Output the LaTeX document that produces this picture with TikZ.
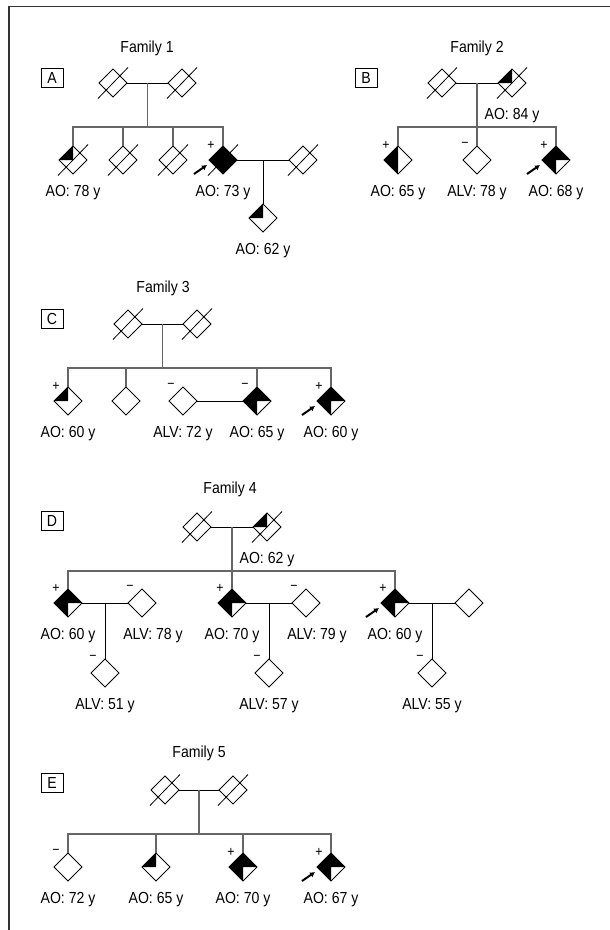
\documentclass[tikz,border=0pt]{standalone}
\usepackage{fontspec}
\setmainfont{Liberation Sans}[FakeStretch=0.88]
\usetikzlibrary{shapes.geometric,arrows.meta,calc}

\begin{document}
\begin{tikzpicture}[x=1pt, y=-1pt, label distance=10.5pt,
  ind/.style={diamond, draw, line width=0.9pt, minimum size=28pt, inner sep=0pt, outer sep=0pt, fill=white},
  aff-q/.style={path picture={\fill[black] (path picture bounding box.west) -- (path picture bounding box.north) -- (path picture bounding box.center) -- cycle;}},
  aff-h/.style={path picture={\fill[black] (path picture bounding box.west) -- (path picture bounding box.north) -- (path picture bounding box.south) -- cycle;}},
  aff-tq/.style={path picture={\fill[black] (path picture bounding box.west) -- (path picture bounding box.north) -- (path picture bounding box.east) -- (path picture bounding box.center) -- (path picture bounding box.south) -- cycle;}},
  aff-f/.style={fill=black},
  lbl/.style={font=\fontsize{16}{18}\selectfont, inner sep=0pt, text height=11.5pt, text depth=3pt},
  title/.style={lbl},
  tag/.style={draw, line width=0.8pt, minimum width=22pt, minimum height=19pt, inner sep=0pt, font=\fontsize{16}{18}\selectfont},
  sgn/.style={font=\fontsize{14}{14}\selectfont, inner sep=0pt},
  sib/.style={draw=black!60, line width=1.3pt},
  mar/.style={draw=black, line width=0.9pt},
  dead/.style={line width=0.8pt},
  prob/.style={-{Latex[length=5pt,width=6pt]}, line width=2pt},
  frame/.style={draw=black!80, line width=1.8pt}]
\useasboundingbox (0,0) rectangle (610,930);

% Frame
\draw[frame] (9,930) -- (9,6.5) -- (610,6.5);

% Family 1
\node[title] (t1) at (147,48) {Family 1};
\node[tag] (A) at (52,78) {A};
\node[ind] (a1) at (113,83) {};
\node[ind] (a2) at (182,83) {};
\node[ind, aff-q, label={[lbl]below:{AO: 78 y}}] (a3) at (73,160) {};
\node[ind] (a4) at (123,160) {};
\node[ind] (a5) at (173,160) {};
\node[ind, aff-f, label={[lbl]below:{AO: 73 y}}] (a6) at (223,160) {};
\node[ind] (a7) at (303,160) {};
\node[ind, aff-q, label={[lbl]below:{AO: 62 y}}] (a8) at (263,218) {};
\draw[mar] (a1) -- (a2);
\coordinate (am) at ($(a1.east)!.5!(a2.west)$);
\draw[sib] (am) -- ++(0,44) coordinate (as);
\draw[sib] (a3.north) -- (a3.north |- as) -- (a6.north |- as) -- (a6.north);
\foreach \n in {a4,a5} \draw[sib] (\n.north) -- (\n.north |- as);
\draw[mar] (a6) -- (a7);
\draw[mar] ($(a6.east)!.5!(a7.west)$) -- (a8.north);

% Family 2
\node[title] (t2) at (477,48) {Family 2};
\node[tag] (B) at (366,78) {B};
\node[ind] (b1) at (442,83) {};
\node[ind, aff-q, label={[lbl]below:{AO: 84 y}}] (b2) at (512,83) {};
\node[ind, aff-h, label={[lbl]below:{AO: 65 y}}] (b3) at (398,160) {};
\node[ind, label={[lbl]below:{ALV: 78 y}}] (b4) at (477,160) {};
\node[ind, aff-tq, label={[lbl]below:{AO: 68 y}}] (b5) at (556,160) {};
\draw[mar] (b1) -- (b2);
\coordinate (bm) at ($(b1.east)!.5!(b2.west)$);
\draw[sib] (bm) -- (b4.north);
\draw[sib] (b3.north) -- ++(0,-19) -| (b5.north);

% Family 3
\node[title] (t3) at (163,288) {Family 3};
\node[tag] (C) at (52,319) {C};
\node[ind] (c1) at (128,324) {};
\node[ind] (c2) at (197,324) {};
\node[ind, aff-q, label={[lbl]below:{AO: 60 y}}] (c3) at (68,401) {};
\node[ind] (c4) at (126,401) {};
\node[ind, label={[lbl]below:{ALV: 72 y}}] (c5) at (183,401) {};
\node[ind, aff-tq, label={[lbl]below:{AO: 65 y}}] (c6) at (257,401) {};
\node[ind, aff-tq, label={[lbl]below:{AO: 60 y}}] (c7) at (331,401) {};
\draw[mar] (c1) -- (c2);
\coordinate (cm) at ($(c1.east)!.5!(c2.west)$);
\draw[sib] (cm) -- ++(0,44) coordinate (cs);
\draw[sib] (c3.north) -- (c3.north |- cs) -- (c7.north |- cs) -- (c7.north);
\foreach \n in {c4,c6} \draw[sib] (\n.north) -- (\n.north |- cs);
\draw[mar] (c5) -- (c6);

% Family 4
\node[title] (t4) at (230,489) {Family 4};
\node[tag] (D) at (52,521) {D};
\node[ind] (d1) at (197,527) {};
\node[ind, aff-q, label={[lbl]below:{AO: 62 y}}] (d2) at (267,527) {};
\node[ind, aff-tq, label={[lbl]below:{AO: 60 y}}] (d3) at (68,603) {};
\node[ind, label={[lbl, xshift=11pt]below:{ALV: 78 y}}] (d4) at (142,603) {};
\node[ind, label={[lbl]below:{ALV: 51 y}}] (d5) at (105,673) {};
\node[ind, aff-tq, label={[lbl]below:{AO: 70 y}}] (d6) at (232,603) {};
\node[ind, label={[lbl, xshift=11pt]below:{ALV: 79 y}}] (d7) at (306,603) {};
\node[ind, label={[lbl]below:{ALV: 57 y}}] (d8) at (269,673) {};
\node[ind, aff-tq, label={[lbl]below:{AO: 60 y}}] (d9) at (395,603) {};
\node[ind] (d10) at (469,603) {};
\node[ind, label={[lbl]below:{ALV: 55 y}}] (d11) at (432,673) {};
\draw[mar] (d1) -- (d2);
\coordinate (dm) at ($(d1.east)!.5!(d2.west)$);
\draw[sib] (dm) -- (d6.north);
\coordinate (ds) at ($(dm)+(0,44)$);
\draw[sib] (d3.north) -- (d3.north |- ds) -- (d9.north |- ds) -- (d9.north);
\draw[mar] (d3) -- (d4);
\draw[mar] ($(d3.east)!.5!(d4.west)$) -- (d5.north);
\draw[mar] (d6) -- (d7);
\draw[mar] ($(d6.east)!.5!(d7.west)$) -- (d8.north);
\draw[mar] (d9) -- (d10);
\draw[mar] ($(d9.east)!.5!(d10.west)$) -- (d11.north);

% Family 5
\node[title] (t5) at (199,753) {Family 5};
\node[tag] (E) at (52,783) {E};
\node[ind] (e1) at (165,790) {};
\node[ind] (e2) at (233,790) {};
\node[ind, label={[lbl]below:{AO: 72 y}}] (e3) at (68,867) {};
\node[ind, aff-q, label={[lbl]below:{AO: 65 y}}] (e4) at (156,867) {};
\node[ind, aff-tq, label={[lbl]below:{AO: 70 y}}] (e5) at (243,867) {};
\node[ind, aff-tq, label={[lbl]below:{AO: 67 y}}] (e6) at (331,867) {};
\draw[mar] (e1) -- (e2);
\coordinate (em) at ($(e1.east)!.5!(e2.west)$);
\draw[sib] (em) -- ++(0,44) coordinate (es);
\draw[sib] (e3.north) -- (e3.north |- es) -- (e6.north |- es) -- (e6.north);
\foreach \n in {e4,e5} \draw[sib] (\n.north) -- (\n.north |- es);

% Deceased
\foreach \n in {a1,a2,a3,a4,a5,a6,a7,b1,b2,c1,c2,d1,d2,e1,e2}
  \draw[dead] (\n.center) +(-15,15.5) -- +(15,-15.5);

% Test results
\foreach \n/\s in {a6/+,b3/+,b4/−,b5/+,c3/+,c5/−,c6/−,c7/+,d3/+,d4/−,d5/−,d6/+,d7/−,d8/−,d9/+,d11/−,e3/−,e5/+,e6/+}
  \node[sgn] (s-\n) at ($(\n.center)+(-12,-15)$) {\s};

% Probands
\foreach \n in {a6,b5,c7,d9,e6}
  \draw[prob] (\n.center) ++(-29,14) -- ++(13,-9);

\end{tikzpicture}
\end{document}
